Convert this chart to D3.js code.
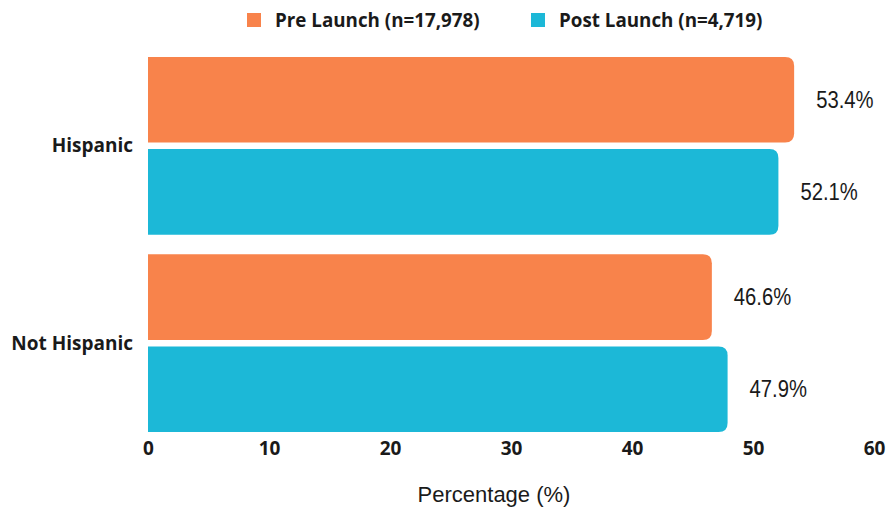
<!DOCTYPE html>
<html>
<head>
<meta charset="utf-8">
<script src="https://cdn.jsdelivr.net/npm/d3@7"></script>
<style>
  html, body { margin: 0; padding: 0; background: #fff; }
  svg { display: block; }
</style>
</head>
<body>
<div id="chart"></div>
<script>
// Ethnicity share before and after launch
const categories = ["Hispanic", "Not Hispanic"];
const seriesNames = ["Pre Launch (n=17,978)", "Post Launch (n=4,719)"];
const preLaunch = [53.4, 46.6];
const postLaunch = [52.1, 47.9];
const xTicks = [0, 10, 20, 30, 40, 50, 60];
const colors = ["#F8834B", "#1CB8D7"];

const W = 892, H = 513;
const svg = d3.select("#chart").append("svg").attr("width", W).attr("height", H);

const x = d3.scaleLinear().domain([0, 60]).range([148, 874]);
const y0 = d3.scaleBand().domain(categories).range([51, 438]).paddingInner(0.1).paddingOuter(0.03);
const y1 = d3.scaleBand().domain([0, 1]).range([0, y0.bandwidth()]).paddingInner(0.07);

const rows = categories.map((c, i) => ({ cat: c, vals: [preLaunch[i], postLaunch[i]] }));

// Bars with rounded right end, square left end
function barPath(x0, x1, yt, h, r) {
  r = Math.min(r, (x1 - x0), h / 2);
  return `M${x0},${yt}H${x1 - r}Q${x1},${yt} ${x1},${yt + r}V${yt + h - r}Q${x1},${yt + h} ${x1 - r},${yt + h}H${x0}Z`;
}

const groups = svg.selectAll("g.group").data(rows).join("g")
  .attr("class", "group")
  .attr("transform", d => `translate(0,${y0(d.cat)})`);

groups.selectAll("path").data(d => d.vals.map((v, j) => ({ v, j }))).join("path")
  .attr("d", d => barPath(x(0), x(d.v), y1(d.j), y1.bandwidth(), 9))
  .attr("fill", d => colors[d.j]);

// Value labels, slightly narrowed glyphs
groups.selectAll("text.val").data(d => d.vals.map((v, j) => ({ v, j }))).join("text")
  .attr("class", "val")
  .attr("transform", d => `translate(${x(d.v) + 22},${y1(d.j) + y1.bandwidth() / 2}) scale(0.88,1)`)
  .attr("dy", "0.35em")
  .attr("font-family", "Liberation Sans, Arial, sans-serif")
  .attr("font-size", 23)
  .attr("fill", "#1a1a1a")
  .text(d => d.v.toFixed(1) + "%");

// Category labels
svg.selectAll("text.cat").data(categories).join("text")
  .attr("class", "cat")
  .attr("x", 133)
  .attr("y", d => y0(d) + y0.bandwidth() / 2)
  .attr("dy", "0.35em")
  .attr("text-anchor", "end")
  .attr("font-family", "Open Sans, sans-serif")
  .attr("font-weight", 700)
  .attr("font-size", 19)
  .attr("fill", "#1a1a1a")
  .text(d => d);

// X axis (labels only)
const xAxis = d3.axisBottom(x).tickValues(xTicks).tickSize(0).tickPadding(0);
const ax = svg.append("g").attr("transform", "translate(0,441)").call(xAxis);
ax.select(".domain").remove();
ax.selectAll("text")
  .attr("font-family", "Open Sans, sans-serif")
  .attr("font-weight", 700)
  .attr("font-size", 19)
  .attr("fill", "#1a1a1a");

svg.append("text")
  .attr("x", 494).attr("y", 502)
  .attr("text-anchor", "middle")
  .attr("font-family", "Liberation Sans, Arial, sans-serif")
  .attr("font-size", 22)
  .attr("fill", "#1a1a1a")
  .text("Percentage (%)");

// Legend
const legendX = [247, 531];
const leg = svg.selectAll("g.leg").data(seriesNames).join("g")
  .attr("class", "leg")
  .attr("transform", (d, i) => `translate(${legendX[i]},13)`);
leg.append("rect").attr("width", 14).attr("height", 14).attr("fill", (d, i) => colors[i]);
leg.append("text")
  .attr("x", 28).attr("y", 7).attr("dy", "0.35em")
  .attr("font-family", "Open Sans, sans-serif")
  .attr("font-weight", 700)
  .attr("font-size", 18.8)
  .attr("fill", "#1a1a1a")
  .text(d => d);
</script>
</body>
</html>
